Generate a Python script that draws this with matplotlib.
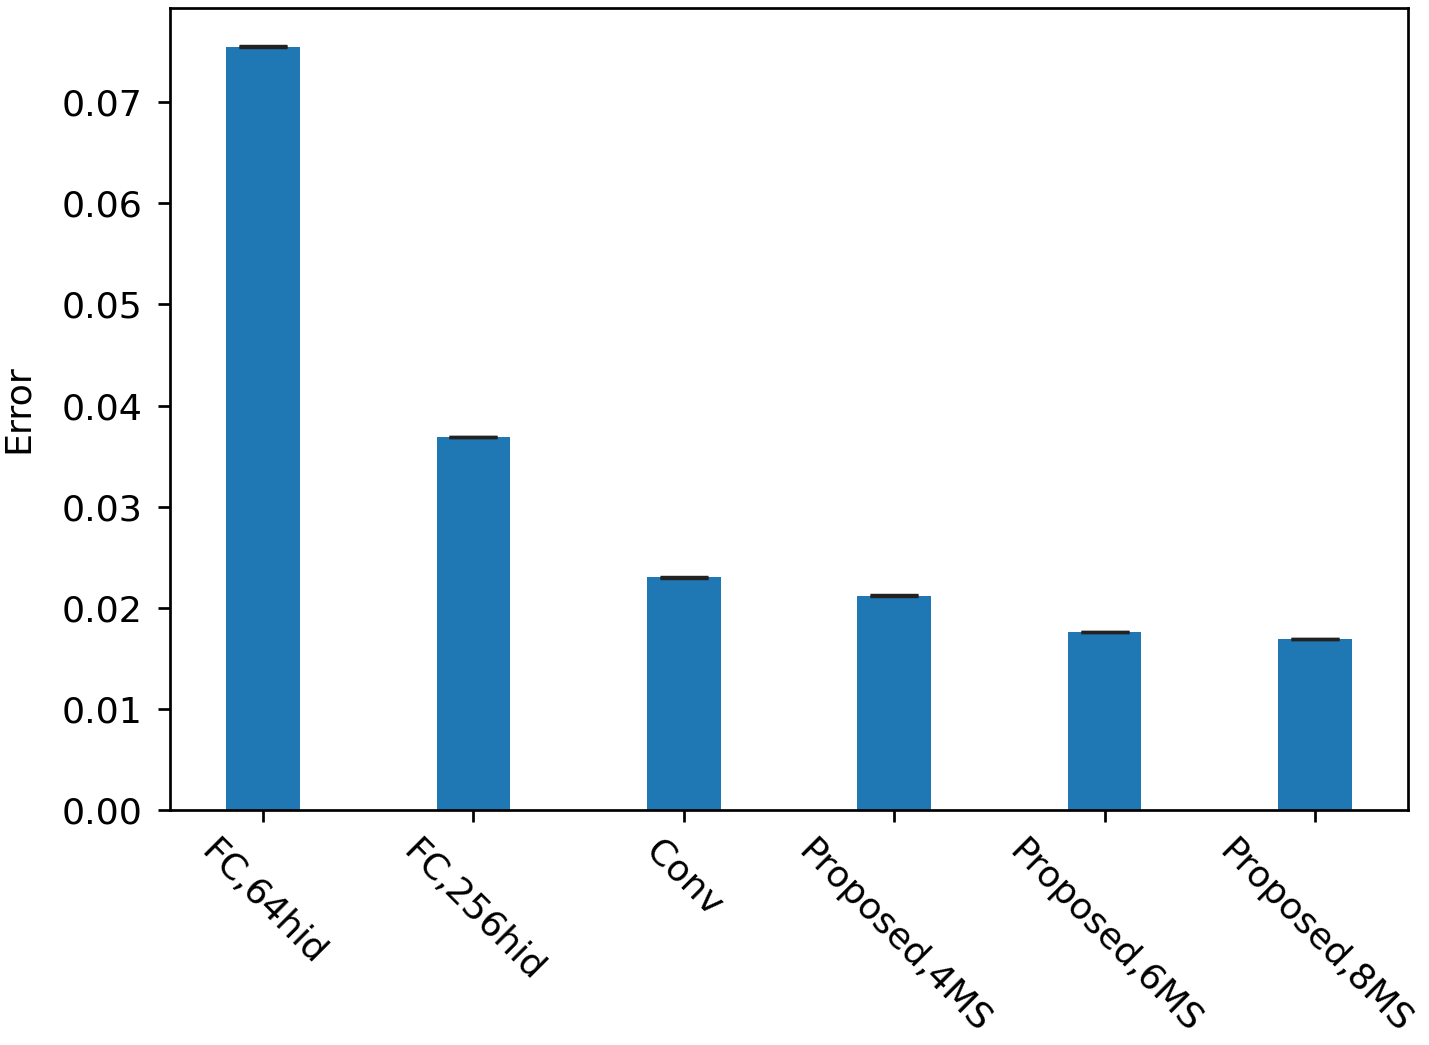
import numpy as np
import matplotlib.pyplot as plt

labels = ["FC,64hid", "FC,256hid", "Conv", "Proposed,4MS", "Proposed,6MS", "Proposed,8MS"]
errors = [0.0755, 0.0369, 0.0230, 0.0212, 0.0176, 0.0169]
stds = [0.00003, 0.00003, 0.00003, 0.00003, 0.00003, 0.00003]

DPI = 245
plt.rcParams['font.size'] = 10.7
fig = plt.figure(figsize=(1429 / DPI, 1045 / DPI), dpi=DPI)
ax = fig.add_axes([0.119, 0.2249, 0.8663, 0.7674])

x = np.arange(len(labels))
ax.bar(x, errors, 0.35, yerr=stds, capsize=7, color="#1f77b4", ecolor="#222222")
ax.set_xticks(x)
ax.set_xticklabels(labels, rotation=-45)
ax.tick_params(axis='y', pad=4.5)
ax.set_ylabel("Error", labelpad=8)

fig.savefig("out.png", dpi=DPI)
